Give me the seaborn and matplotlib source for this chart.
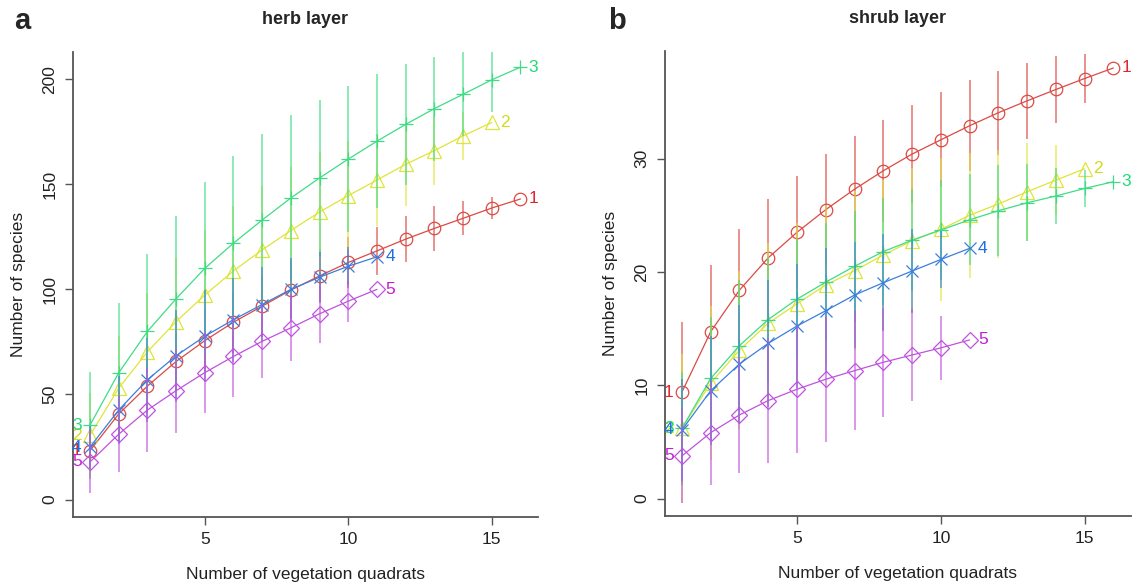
import numpy as np
import pandas as pd
import matplotlib
matplotlib.use("Agg")
from matplotlib import pyplot as plt
import seaborn as sns

# herb layer - mean number of species (1..16 quadrats) and half length of the bars
herb_1 = [23.3, 40.7, 54.0, 65.7, 75.6, 84.4, 92.0, 99.7, 106.4, 112.8, 118.3, 123.9, 129.0, 133.8, 138.7, 143.0]
herb_2 = [30.6, 53.0, 70.3, 84.7, 97.3, 108.8, 118.8, 128.0, 136.8, 144.6, 152.0, 159.5, 166.0, 173.0, 179.4]
herb_3 = [35.4, 60.3, 80.0, 95.5, 110.0, 122.0, 133.0, 143.5, 153.0, 162.0, 170.5, 178.5, 186.0, 192.8, 199.7, 205.7]
herb_4 = [25.0, 42.6, 57.0, 68.4, 77.7, 85.6, 92.8, 100.0, 105.8, 111.0, 115.5]
herb_5 = [17.9, 31.1, 42.6, 51.8, 60.4, 68.1, 75.3, 81.7, 88.4, 94.4, 100.0]

herb_sd_1 = [8, 11, 13, 14, 14.5, 14.5, 14.5, 14, 13, 12, 11.5, 11, 10.6, 8, 5.3, 0]
herb_sd_2 = [20, 25, 28, 30, 31, 31, 30.5, 30, 28.5, 26, 22, 20, 16.4, 11.5, 0]
herb_sd_3 = [25.4, 33, 37, 39.6, 41, 41.5, 41, 39.5, 37, 34.7, 32, 28.7, 24.7, 20, 15.2, 0]
herb_sd_4 = [10, 16, 20, 22, 22, 20, 18, 15, 12, 9, 0]
herb_sd_5 = [15, 18, 20, 20, 19.4, 19.2, 17.7, 15.7, 13.8, 9.8, 0]

# shrub layer
shrub_1 = [9.4, 14.73, 18.4, 21.25, 23.5, 25.5, 27.3, 28.93, 30.4, 31.66, 32.9, 34.05, 35.1, 36.1, 37.07, 38.0]
shrub_2 = [6.2, 10.2, 13.1, 15.47, 17.2, 18.85, 20.1, 21.5, 22.75, 23.75, 25.0, 26.0, 27.07, 28.1, 29.1]
shrub_3 = [6.2, 10.6, 13.5, 15.8, 17.6, 19.1, 20.5, 21.8, 22.8, 23.7, 24.6, 25.4, 26.1, 26.7, 27.37, 27.96]
shrub_4 = [6.06, 9.52, 11.88, 13.7, 15.23, 16.58, 17.96, 19.05, 20.08, 21.1, 22.08]
shrub_5 = [3.77, 5.82, 7.38, 8.65, 9.65, 10.53, 11.29, 12.03, 12.67, 13.3, 14.0]

shrub_sd_1 = [6.2, 5.9, 5.4, 5.2, 5.0, 4.9, 4.7, 4.5, 4.33, 4.2, 4.0, 3.7, 3.37, 2.94, 2.2, 0]
shrub_sd_2 = [6.6, 6.8, 7.0, 7.1, 7.1, 7.1, 7.0, 6.6, 6.4, 6.3, 5.5, 4.8, 4.3, 3.1, 0]
shrub_sd_3 = [5.0, 5.4, 5.8, 5.5, 5.3, 5.2, 4.9, 4.7, 4.5, 4.4, 4.0, 4.0, 3.4, 2.5, 1.6, 0]
shrub_sd_4 = [4.5, 4.8, 5.2, 5.6, 5.5, 5.5, 4.7, 4.3, 3.7, 2.5, 0]
shrub_sd_5 = [4.2, 4.6, 5.1, 5.5, 5.6, 5.56, 5.23, 4.8, 4.1, 2.8, 0]

groups = ["1", "2", "3", "4", "5"]
line_colors = ["#dc4a44", "#dfe43c", "#3fdc86", "#3b7fdc", "#c052de"]
label_colors = ["#e4262c", "#d2dc1a", "#1fdc78", "#1f6fdc", "#c21ed2"]
markers = ["o", "^", "+", "x", "D"]
msizes = [9.0, 10.0, 10.5, 8.2, 8.4]

sns.set_style("ticks")
plt.rcParams["font.family"] = ["Liberation Sans", "DejaVu Sans"]

fig = plt.figure(figsize=(11.32, 5.88), dpi=100)
ax1 = fig.add_axes([0.0643, 0.1207, 0.4107, 0.7908])
ax2 = fig.add_axes([0.5872, 0.1224, 0.4116, 0.7913])


def draw_panel(ax, means, sds, ylim, yticks, title):
    rows = []
    for g, m, s in zip(groups, means, sds):
        for i, (v, e) in enumerate(zip(m, s)):
            rows.append({"group": g, "quadrats": i + 1, "species": v, "sd": e})
    df = pd.DataFrame(rows)

    for k, g in enumerate(groups):
        d = df[df["group"] == g]
        c = line_colors[k]
        bars = d[d["sd"] > 0]
        ax.vlines(bars["quadrats"], bars["species"] - bars["sd"], bars["species"] + bars["sd"],
                  color=c, lw=1.3, alpha=0.65, zorder=2 + k)
        sns.lineplot(data=d, x="quadrats", y="species", ax=ax, color=c, marker=markers[k],
                     markersize=msizes[k], markerfacecolor="none", markeredgecolor=c,
                     markeredgewidth=0.9, linewidth=0.9, errorbar=None, zorder=2.5 + k)
        first = d.iloc[0]
        last = d.iloc[-1]
        ax.annotate(g, (first["quadrats"], first["species"]), xytext=(-6, 0), textcoords="offset points",
                    ha="right", va="center", color=label_colors[k], fontsize=12.5, zorder=10)
        ax.annotate(g, (last["quadrats"], last["species"]), xytext=(6, 0), textcoords="offset points",
                    ha="left", va="center", color=label_colors[k], fontsize=12.5, zorder=10,
                    annotation_clip=False)

    ax.set_xlim(0.4, 16.6)
    ax.set_ylim(*ylim)
    ax.set_xticks([5, 10, 15])
    ax.set_yticks(yticks)
    ax.set_xlabel("Number of vegetation quadrats", fontsize=12.5, color="#222222", labelpad=14)
    ax.set_ylabel("Number of species", fontsize=12.5, color="#222222", labelpad=12)
    ax.set_title(title, fontsize=13, fontweight="bold", pad=20)
    sns.despine(ax=ax)
    for side in ["left", "bottom"]:
        ax.spines[side].set_color("#555555")
        ax.spines[side].set_linewidth(1.3)
    ax.tick_params(length=6, width=1, color="#555555", labelsize=12.5, labelcolor="#222222", pad=5)
    plt.setp(ax.get_yticklabels(), rotation=90, va="center")


draw_panel(ax1, [herb_1, herb_2, herb_3, herb_4, herb_5],
           [herb_sd_1, herb_sd_2, herb_sd_3, herb_sd_4, herb_sd_5],
           (-8.3, 212.9), [0, 50, 100, 150, 200], "herb layer")
draw_panel(ax2, [shrub_1, shrub_2, shrub_3, shrub_4, shrub_5],
           [shrub_sd_1, shrub_sd_2, shrub_sd_3, shrub_sd_4, shrub_sd_5],
           (-1.54, 39.52), [0, 10, 20, 30], "shrub layer")

fig.text(0.020, 0.965, "a", fontsize=21, fontweight="bold", va="center", ha="center")
fig.text(0.545, 0.965, "b", fontsize=21, fontweight="bold", va="center", ha="center")

fig.savefig("out.png", dpi=100, facecolor="white")
